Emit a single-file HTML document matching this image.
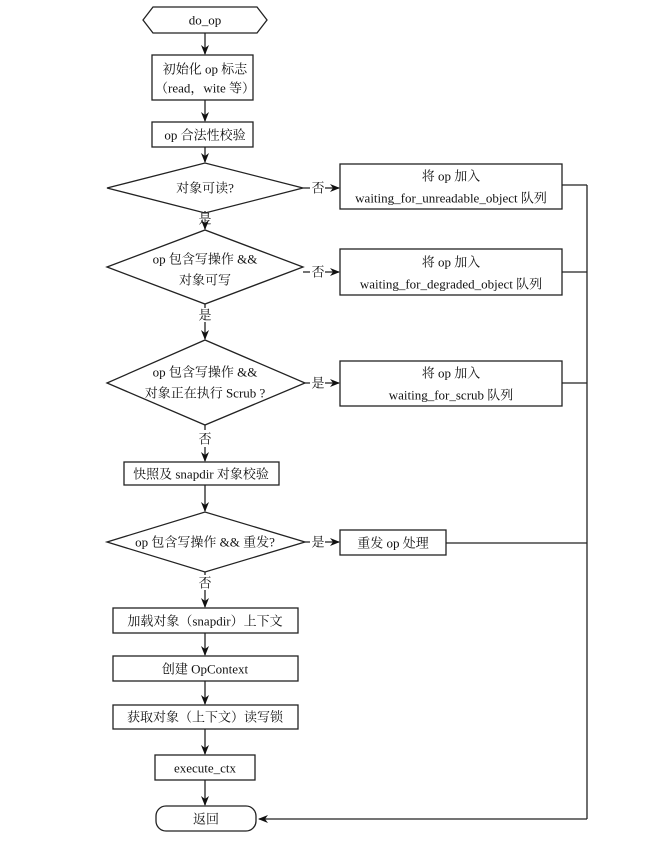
<!DOCTYPE html>
<html><head><meta charset="utf-8"><style>
html,body{margin:0;padding:0;background:#fff}
svg text{font-family:"Liberation Serif","Noto Serif CJK SC",serif;font-size:13px;fill:#111;text-anchor:middle;dominant-baseline:central}
</style></head><body>
<svg width="670" height="847" viewBox="0 0 670 847" xmlns="http://www.w3.org/2000/svg">
<defs><marker id="a" markerWidth="10" markerHeight="8" refX="9" refY="4" orient="auto" markerUnits="userSpaceOnUse"><path d="M0,0 L10,4 L0,8 L3,4 Z" fill="#111"/></marker></defs>
<g fill="none" stroke="#222" stroke-width="1.3">
<polygon points="143,20 153,7 257,7 267,20 257,33 153,33" fill="#fff"/>
<rect x="152" y="55" width="101" height="45"/>
<rect x="152" y="122" width="101" height="25"/>
<polygon points="107,188 205,163 303,188 205,213"/>
<polygon points="107,267 205,230 303,267 205,304"/>
<polygon points="107,383 205,340 305,383 205,425"/>
<rect x="124" y="462" width="155" height="23"/>
<polygon points="107,542 205,512 305,542 205,572"/>
<rect x="113" y="608" width="185" height="25"/>
<rect x="113" y="656" width="185" height="25"/>
<rect x="113" y="705" width="185" height="24"/>
<rect x="155" y="755" width="100" height="25"/>
<rect x="156" y="806" width="100" height="25" rx="10"/>
<rect x="340" y="164" width="222" height="45"/>
<rect x="340" y="249" width="222" height="46"/>
<rect x="340" y="361" width="222" height="45"/>
<rect x="340" y="530" width="106" height="25"/>
<path d="M562,185 H587 M562,272 H587 M562,383 H587 M446,543 H587 M587,185 V819"/>
<path d="M587,819 H259" marker-end="url(#a)"/>
<path d="M205,33 V54" marker-end="url(#a)"/>
<path d="M205,100 V121" marker-end="url(#a)"/>
<path d="M205,147 V162" marker-end="url(#a)"/>
<path d="M205,213 V211 M205,226 V229" marker-end="url(#a)"/>
<path d="M205,304 V308 M205,322 V339" marker-end="url(#a)"/>
<path d="M205,425 V430 M205,447 V461" marker-end="url(#a)"/>
<path d="M205,485 V511" marker-end="url(#a)"/>
<path d="M205,572 V575 M205,590 V607" marker-end="url(#a)"/>
<path d="M205,633 V655" marker-end="url(#a)"/>
<path d="M205,681 V704" marker-end="url(#a)"/>
<path d="M205,729 V754" marker-end="url(#a)"/>
<path d="M205,780 V805" marker-end="url(#a)"/>
<path d="M303,188 H310 M325,188 H339" marker-end="url(#a)"/>
<path d="M303,272 H310 M325,272 H339" marker-end="url(#a)"/>
<path d="M305,383 H310 M325,383 H339" marker-end="url(#a)"/>
<path d="M305,542 H310 M325,542 H339" marker-end="url(#a)"/>
</g>
<text x="205" y="20">do_op</text>
<text x="205" y="69">初始化 op 标志</text>
<text x="205" y="88">（read，wite 等）</text>
<text x="205" y="135">op 合法性校验</text>
<text x="205" y="188">对象可读?</text>
<text x="205" y="219">是</text>
<text x="205" y="259">op 包含写操作 &amp;&amp;</text>
<text x="205" y="280">对象可写</text>
<text x="205" y="315">是</text>
<text x="205" y="372">op 包含写操作 &amp;&amp;</text>
<text x="205" y="393">对象正在执行 Scrub ?</text>
<text x="205" y="439">否</text>
<text x="201" y="474">快照及 snapdir 对象校验</text>
<text x="205" y="542">op 包含写操作 &amp;&amp; 重发?</text>
<text x="205" y="583">否</text>
<text x="205" y="621">加载对象（snapdir）上下文</text>
<text x="205" y="669">创建 OpContext</text>
<text x="205" y="717">获取对象（上下文）读写锁</text>
<text x="205" y="768">execute_ctx</text>
<text x="206" y="819">返回</text>
<text x="318" y="188">否</text>
<text x="318" y="272">否</text>
<text x="318" y="383">是</text>
<text x="318" y="542">是</text>
<text x="451" y="176">将 op 加入</text>
<text x="451" y="198">waiting_for_unreadable_object 队列</text>
<text x="451" y="262">将 op 加入</text>
<text x="451" y="284">waiting_for_degraded_object 队列</text>
<text x="451" y="373">将 op 加入</text>
<text x="451" y="395">waiting_for_scrub 队列</text>
<text x="393" y="543">重发 op 处理</text>
</svg>
</body></html>
